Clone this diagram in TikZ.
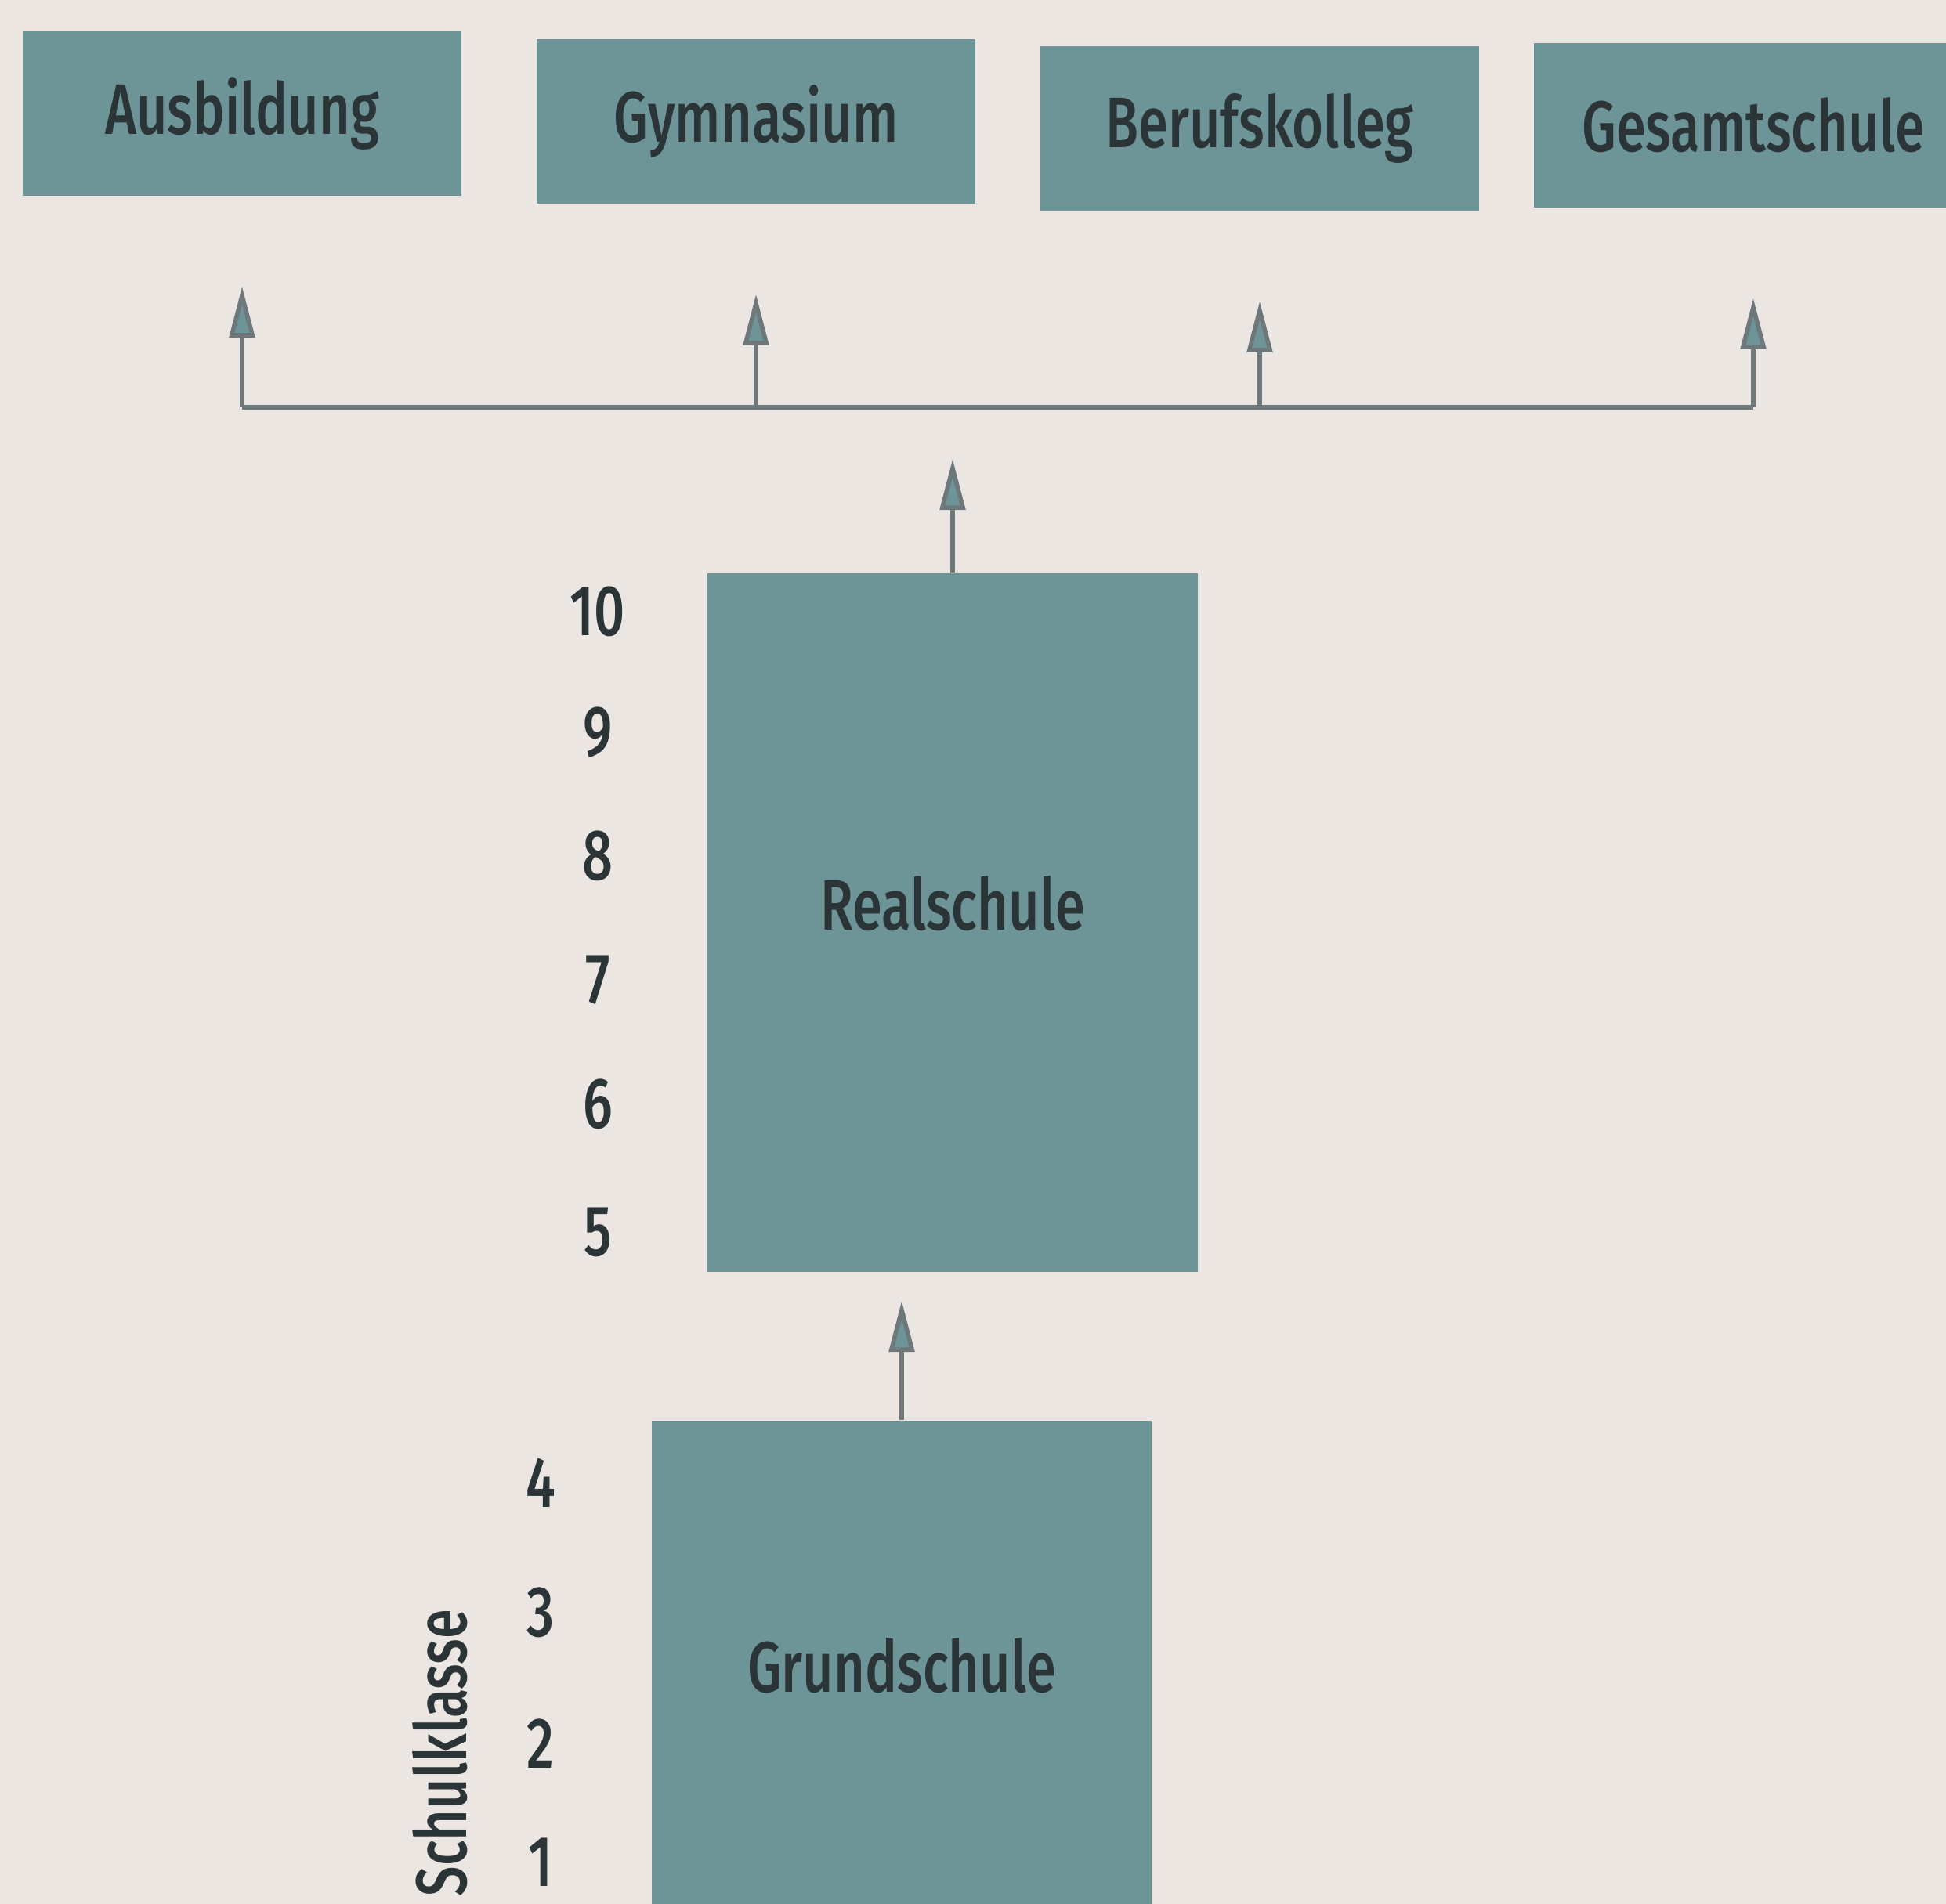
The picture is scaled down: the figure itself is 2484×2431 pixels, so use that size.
\documentclass[tikz,border=0pt]{standalone}
\usepackage{fontspec}
\setmainfont{Fira Sans}[FakeStretch=0.75, UprightFont={* Medium}]
\usetikzlibrary{arrows.meta}
\definecolor{schulblau}{HTML}{6D9598}
\definecolor{papier}{HTML}{ECE6E2}
\definecolor{strich}{HTML}{6E787B}
\definecolor{schrift}{HTML}{2B3436}

\begin{document}
\begin{tikzpicture}[
    x=0.01cm, y=-0.01cm,
    every node/.style={text=schrift, font=\fontsize{26}{30}\selectfont},
    ziel/.style={rectangle, fill=schulblau, text centered, minimum width=5.6cm, minimum height=2.1cm, inner sep=0pt},
    schule/.style={rectangle, fill=schulblau, text centered, inner sep=0pt},
    stufe/.style={inner sep=0pt},
    linie/.style={draw=strich, line width=1.6pt},
    pfeil/.style={linie, -{Triangle[length=6.5mm, width=3.2mm, fill=schulblau]}}
]

% Hintergrund
\fill[papier] (0,0) rectangle (2484,2431);
\useasboundingbox (0,0) rectangle (2484,2431);

% Abschluesse oben
\node[ziel] (ausbildung) at (309,145) {Ausbildung};
\node[ziel] (gymnasium) at (965,155) {Gymnasium};
\node[ziel] (kolleg) at (1608,164) {Berufskolleg};
\node[ziel] (gesamt) at (2238,160) {Gesamtschule};

% Schulen
\node[schule, minimum width=6.26cm, minimum height=8.92cm] (real) at (1216,1178) {\raisebox{0.5cm}{Realschule}};
\node[schule, minimum width=6.38cm, minimum height=6.26cm] (grund) at (1151,2127) {Grundschule};

% Klassenstufen
\foreach \k/\y in {10/781, 9/935, 8/1093, 7/1251, 6/1410, 5/1573}
  \node[stufe] (k\k) at (763,\y) {\k};
\foreach \k/\y in {4/1893, 3/2059, 2/2226, 1/2378}
  \node[stufe] (k\k) at (690,\y) {\k};
\node[stufe, rotate=90] (klasse) at (562,2238) {Schulklasse};

% Verteiler
\coordinate (bus) at (1259,520);
\draw[linie] (ausbildung.south |- bus) -- (gesamt.south |- bus);
\foreach \z in {ausbildung, gymnasium, kolleg, gesamt}
  \draw[pfeil, shorten >=1.15cm] (\z.south |- bus) -- (\z.south);

% Aufstieg
\draw[pfeil, shorten >=6.6mm] (real.north) -- (real.north |- bus);
\draw[pfeil, shorten >=3.6mm] (grund.north) -- (grund.north |- real.south);

\end{tikzpicture}
\end{document}
